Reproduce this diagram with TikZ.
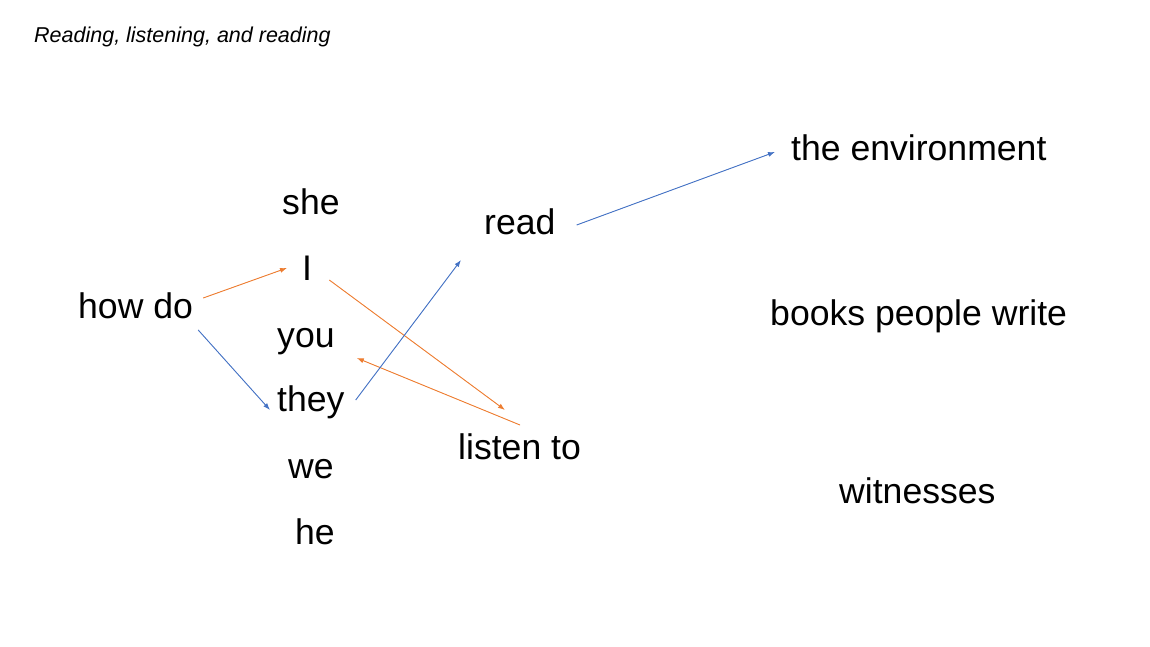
\documentclass[tikz,border=0pt]{standalone}
\usepackage{fontspec}
\setmainfont{Liberation Sans}
\usetikzlibrary{arrows.meta,calc}
\definecolor{orng}{HTML}{ED7D31}
\definecolor{blu}{HTML}{4472C4}
\begin{document}
\begin{tikzpicture}[x=1pt,y=-1pt,
  word/.style={anchor=base west,inner sep=0pt,font=\fontsize{35.6}{40}\selectfont},
  arr/.style={line width=0.9pt,-{Latex[length=7pt,width=5pt]}},
  oarr/.style={arr,draw=orng,fill=orng},
  barr/.style={arr,draw=blu,fill=blu}]
\useasboundingbox (0,0) rectangle (1150,647);
\node[anchor=base west,inner sep=0pt,font=\fontsize{21.5}{24}\selectfont\itshape] (title) at (34,43) {Reading, listening, and reading};
\node[word] (she) at (282,214) {she};
\node[word] (I) at (302,280) {I};
\node[word] (howdo) at (78,318) {how do};
\node[word] (you) at (277,347) {you};
\node[word] (they) at (277,411) {they};
\node[word] (we) at (288,478) {we};
\node[word] (he) at (295,544) {he};
\node[word] (read) at (484,234) {read};
\node[word] (listen) at (458,459) {listen to};
\node[word] (env) at (791,161) {the environment};
\node[word] (books) at (770,325) {books people write};
\node[word] (wit) at (839,503) {witnesses};
\draw[oarr] ($(howdo.base east)+(10,-20)$) -- ($(I.base west)+(-15,-12)$);
\draw[barr] ($(howdo.base east)+(5,12)$) -- ($(they.base west)+(-7,-1)$);
\draw[oarr] ($(I.base east)+(17,0)$) -- ($(listen.base west)+(47,-49)$);
\draw[oarr] ($(listen.base west)+(62,-34)$) -- ($(you.base east)+(22,11)$);
\draw[barr] ($(they.base east)+(11,-11)$) -- ($(read.base west)+(-23,26)$);
\draw[barr] ($(read.base east)+(21,-9)$) -- ($(env.base west)+(-16,-9)$);
\end{tikzpicture}
\end{document}
